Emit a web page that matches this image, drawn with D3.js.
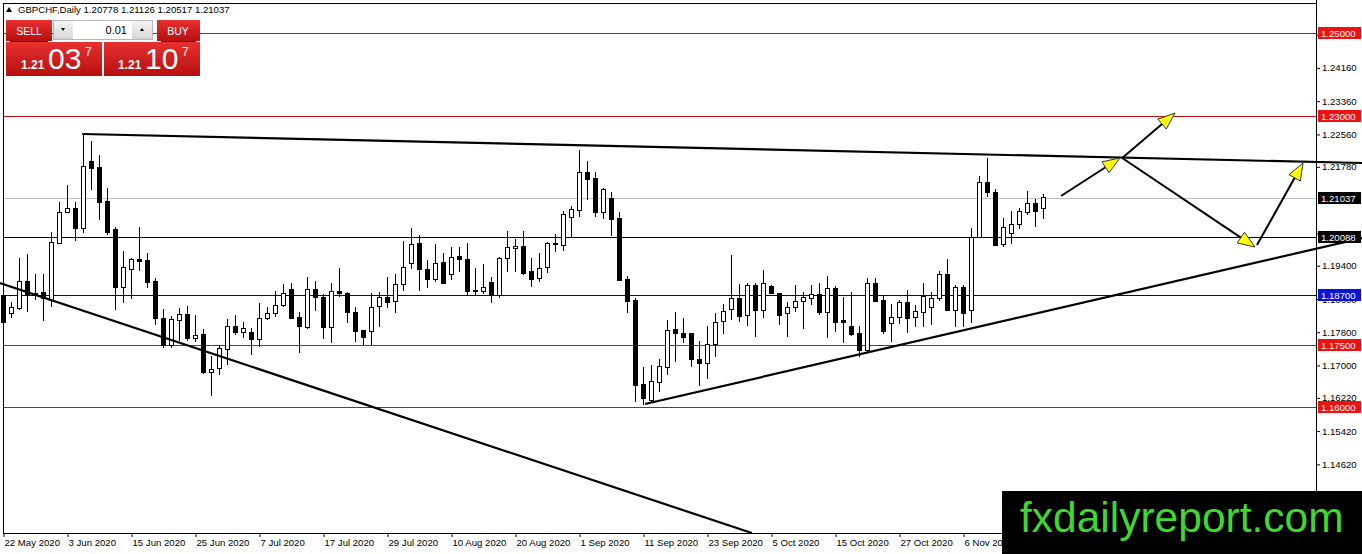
<!DOCTYPE html>
<html>
<head>
<meta charset="utf-8">
<script src="https://cdn.jsdelivr.net/npm/d3@7"></script>
<style>
  body { margin: 0; background: #fff; }
  svg { display: block; font-family: "Liberation Sans", Arial, sans-serif; }
</style>
</head>
<body>
<svg id="chart" width="1362" height="554"></svg>
<script>
// GBPCHF daily, 22 May 2020 - 20 Nov 2020 (weekdays)
const opens = [1.18694,1.18261,1.18381,1.19031,1.18742,1.18766,1.18574,1.19946,1.20692,1.20788,
  1.20307,1.21919,1.21775,1.20957,1.20283,1.18887,1.19320,1.19561,1.19537,1.19031,
  1.18141,1.17491,1.18093,1.18237,1.17659,1.17756,1.16841,1.16937,1.17395,1.17948,
  1.17804,1.17804,1.17635,1.18141,1.18261,1.18454,1.18839,1.18165,1.17924,1.18839,
  1.18646,1.17924,1.18791,1.18742,1.18285,1.17852,1.17828,1.18430,1.18646,1.18550,
  1.18959,1.19464,1.19946,1.19320,1.19079,1.19488,1.19200,1.19633,1.19561,1.18815,
  1.18791,1.19007,1.18694,1.19585,1.19825,1.19874,1.19272,1.19103,1.19368,1.19946,
  1.19898,1.20571,1.20740,1.21654,1.21510,1.20692,1.21029,1.20547,1.19079,1.18574,
  1.16552,1.16167,1.16600,1.16961,1.17876,1.17780,1.17780,1.17154,1.17058,1.17515,
  1.18068,1.18357,1.18622,1.18213,1.18935,1.18333,1.18911,1.18742,1.18261,1.18405,
  1.18550,1.18622,1.18718,1.18285,1.18863,1.18093,1.17948,1.17780,1.17371,1.18983,
  1.18574,1.18020,1.18165,1.18526,1.18165,1.18285,1.18405,1.18622,1.19200,1.18333,
  1.18887,1.18333,1.20090,1.21414,1.21173,1.19922,1.20186,1.20403,1.20692,1.20908,
  1.20778];
const highs = [1.18815,1.18526,1.19585,1.19681,1.19200,1.19200,1.20210,1.20932,1.21342,1.20932,
  1.22545,1.22401,1.22064,1.21269,1.20331,1.19753,1.19585,1.20331,1.19705,1.19103,
  1.18357,1.18189,1.18381,1.18430,1.18213,1.17876,1.17226,1.17491,1.18117,1.18213,
  1.18044,1.17900,1.18502,1.18405,1.18791,1.18959,1.18983,1.18285,1.19127,1.19031,
  1.18718,1.18983,1.19344,1.18766,1.18405,1.17852,1.18742,1.18766,1.19127,1.19200,
  1.19994,1.20307,1.20138,1.19537,1.19922,1.19705,1.19849,1.19849,1.19946,1.19344,
  1.19440,1.19127,1.19609,1.20235,1.20042,1.20235,1.19585,1.19705,1.19970,1.20162,
  1.20716,1.20836,1.22184,1.21919,1.21654,1.21269,1.21173,1.20692,1.19152,1.18622,
  1.16961,1.17010,1.17154,1.18093,1.18285,1.18141,1.17780,1.17587,1.17948,1.18261,
  1.18478,1.19657,1.18959,1.18983,1.18983,1.19296,1.18935,1.18742,1.18526,1.18935,
  1.18766,1.18935,1.18983,1.19152,1.18911,1.18646,1.18766,1.17948,1.19103,1.19103,
  1.18694,1.18478,1.18574,1.18815,1.18454,1.18983,1.18766,1.19272,1.19561,1.18935,
  1.18935,1.20307,1.21558,1.21991,1.21245,1.20547,1.20716,1.20788,1.21197,1.21005,
  1.21126];
const lows = [1.17972,1.18141,1.18333,1.18285,1.18574,1.18068,1.18405,1.19922,1.20668,1.19994,
  1.20186,1.21221,1.20499,1.20138,1.18333,1.18502,1.18598,1.19272,1.18863,1.17972,
  1.17419,1.17419,1.17587,1.17587,1.17563,1.16793,1.16263,1.16769,1.17010,1.17732,
  1.17659,1.17250,1.17443,1.18093,1.18165,1.18405,1.18117,1.17298,1.17876,1.18309,
  1.17635,1.17539,1.18646,1.18020,1.17563,1.17491,1.17491,1.17924,1.18381,1.18261,
  1.18791,1.19320,1.18791,1.18863,1.19007,1.18983,1.19055,1.19248,1.18694,1.18694,
  1.18718,1.18502,1.18622,1.19248,1.19248,1.19176,1.18887,1.19007,1.19224,1.19729,
  1.19753,1.20066,1.20571,1.20981,1.20571,1.20523,1.20114,1.19031,1.18261,1.16119,
  1.16050,1.16119,1.16360,1.16769,1.17082,1.17539,1.16961,1.16504,1.16673,1.17202,
  1.17756,1.18093,1.18044,1.17948,1.17683,1.18141,1.18718,1.17972,1.17683,1.18285,
  1.17876,1.18454,1.18213,1.17659,1.17804,1.17539,1.17707,1.17202,1.17298,1.18550,
  1.17756,1.17563,1.17996,1.17780,1.17924,1.17924,1.17972,1.18550,1.18333,1.17924,
  1.17924,1.18020,1.20066,1.21053,1.19874,1.19849,1.19922,1.20283,1.20620,1.20331,
  1.20517];
const closes = [1.18044,1.18405,1.19031,1.18718,1.18694,1.18622,1.19970,1.20692,1.20788,1.20307,
  1.21799,1.21751,1.20932,1.20210,1.18887,1.19368,1.19561,1.19513,1.19007,1.18141,
  1.17491,1.18117,1.18237,1.17659,1.17732,1.16841,1.16913,1.17419,1.17948,1.17804,
  1.17900,1.17635,1.18141,1.18261,1.18454,1.18742,1.18141,1.17948,1.18839,1.18646,
  1.17924,1.18791,1.18742,1.18285,1.17828,1.17683,1.18405,1.18646,1.18526,1.18959,
  1.19368,1.19922,1.19320,1.19079,1.19464,1.18983,1.19609,1.19561,1.18791,1.18810,
  1.18887,1.18718,1.19585,1.19849,1.19874,1.19224,1.19079,1.19344,1.19946,1.19922,
  1.20644,1.20764,1.21654,1.21486,1.20692,1.21245,1.20523,1.19055,1.18550,1.16528,
  1.16215,1.16624,1.16985,1.17852,1.17780,1.17683,1.17154,1.17058,1.17515,1.18044,
  1.18309,1.18622,1.18189,1.18935,1.18333,1.18983,1.18742,1.18213,1.18405,1.18550,
  1.18646,1.18718,1.18285,1.18863,1.18044,1.18044,1.17756,1.17371,1.18983,1.18550,
  1.17828,1.18165,1.18526,1.18141,1.18309,1.18670,1.18622,1.19200,1.18333,1.18887,
  1.18261,1.20090,1.21414,1.21173,1.19898,1.20331,1.20403,1.20716,1.20908,1.20716,
  1.21037];

// date labels every 8 bars; the one after 6 Nov sits under the watermark and is left out
const tickLabels = ["22 May 2020","3 Jun 2020","15 Jun 2020","25 Jun 2020","7 Jul 2020",
  "17 Jul 2020","29 Jul 2020","10 Aug 2020","20 Aug 2020","1 Sep 2020","11 Sep 2020",
  "23 Sep 2020","5 Oct 2020","15 Oct 2020","27 Oct 2020","6 Nov 2020"];
// ticks that are entirely covered in the reference (1.20980, 1.13820) are left out
const priceTicks = [1.24960,1.24160,1.23360,1.22560,1.21780,1.20180,1.19400,
  1.18600,1.17800,1.17000,1.16220,1.15420,1.14620];

// horizontal levels
const redLevels = [1.25000, 1.23000, 1.17500, 1.16000];
const bidPrice = 1.21037;
const pivotLevel = 1.20088;
const blueLevel = 1.18700;

// trend lines and arrows as [bar index, price]
const topLine = [[9.9, 1.22569], [169.9, 1.21871]];
const riseLine = [[80.25, 1.16071], [169.9, 1.20066]];
const fallLine = [[-0.4, 1.18983], [93.6, 1.12968]];
const arrows = [
  [[132.25, 1.21077], [139.6, 1.21991]],
  [[139.9, 1.21991], [146.5, 1.23074]],
  [[139.9, 1.21991], [156.5, 1.19849]],
  [[156.75, 1.19898], [162.5, 1.21871]]
];

const header = ["GBPCHF,Daily", 1.20778, 1.21126, 1.20517, 1.21037];

const n = closes.length;
const svg = d3.select("#chart");
const plotL = 3, plotR = 1316, plotT = 3, plotB = 533;

let x = d3.scaleLinear().domain([0, n - 1]).range([3, 3 + 8 * (n - 1)]);
let y = d3.scaleLinear().domain([1.16, 1.25]).range([407, 33]);

svg.append("rect").attr("width", 1362).attr("height", 554).attr("fill", "#fff");

const defs = svg.append("defs");
const redGrad = defs.append("linearGradient").attr("id", "redg").attr("x1", 0).attr("x2", 0).attr("y1", 0).attr("y2", 1);
redGrad.append("stop").attr("offset", "0%").attr("stop-color", "#e83030");
redGrad.append("stop").attr("offset", "100%").attr("stop-color", "#b50f0f");
const grayGrad = defs.append("linearGradient").attr("id", "grayg").attr("x1", 0).attr("x2", 0).attr("y1", 0).attr("y2", 1);
grayGrad.append("stop").attr("offset", "0%").attr("stop-color", "#f4f4f4");
grayGrad.append("stop").attr("offset", "100%").attr("stop-color", "#d6d6d6");

// horizontal level lines
const hline = (p, color) => svg.append("line")
  .attr("x1", plotL).attr("x2", plotR)
  .attr("y1", Math.round(y(p)) + 0.5).attr("y2", Math.round(y(p)) + 0.5)
  .attr("stroke", color).attr("stroke-width", 1);
redLevels.forEach(p => hline(p, "#d01010"));
hline(bidPrice, "#c0c0c0");
hline(pivotLevel, "#000");
hline(blueLevel, "#000090");

// candles
const candles = svg.append("g").attr("shape-rendering", "crispEdges");
const idx = d3.range(n);
candles.selectAll(".wick").data(idx).enter().append("line")
  .attr("x1", i => x(i) + 0.5).attr("x2", i => x(i) + 0.5)
  .attr("y1", i => y(highs[i])).attr("y2", i => y(lows[i]))
  .attr("stroke", "#000");
candles.selectAll(".body").data(idx).enter().append("rect")
  .attr("x", i => x(i) - 1.5)
  .attr("width", 4)
  .attr("y", i => y(Math.max(opens[i], closes[i])))
  .attr("height", i => Math.max(1, Math.abs(y(opens[i]) - y(closes[i]))))
  .attr("fill", i => closes[i] >= opens[i] ? "#fff" : "#000")
  .attr("stroke", "#000");

// trend lines
const seg = d3.line().x(d => x(d[0])).y(d => y(d[1]));
[topLine, riseLine, fallLine].forEach(l => {
  svg.append("path").attr("d", seg(l)).attr("stroke", "#000").attr("stroke-width", 2.2).attr("fill", "none");
});

// arrows
arrows.forEach(a => {
  const x0 = x(a[0][0]), y0 = y(a[0][1]), x1 = x(a[1][0]), y1 = y(a[1][1]);
  const ang = Math.atan2(y1 - y0, x1 - x0);
  const len = 17, hw = 6.5;
  const bx = x1 - len * Math.cos(ang), by = y1 - len * Math.sin(ang);
  svg.append("line").attr("x1", x0).attr("y1", y0).attr("x2", bx).attr("y2", by)
    .attr("stroke", "#000").attr("stroke-width", 2);
  const pts = [[x1, y1],
    [bx + hw * Math.sin(ang), by - hw * Math.cos(ang)],
    [bx - hw * Math.sin(ang), by + hw * Math.cos(ang)]];
  svg.append("polygon").attr("points", pts.map(p => p.join(",")).join(" "))
    .attr("fill", "#ffff00").attr("stroke", "#333").attr("stroke-width", 1);
});

// frame
svg.append("path")
  .attr("d", `M${plotL + 0.5},${plotB + 0.5}V${plotT + 0.5}H${plotR + 0.5}V${plotB + 0.5}H${plotL + 0.5}`)
  .attr("stroke", "#000").attr("fill", "none").attr("shape-rendering", "crispEdges");
svg.append("line").attr("x1", plotR + 0.5).attr("x2", plotR + 0.5).attr("y1", 0).attr("y2", 554)
  .attr("stroke", "#000").attr("shape-rendering", "crispEdges");

// bottom axis
const xAxis = svg.append("g").attr("transform", `translate(0,${plotB})`)
  .call(d3.axisBottom(x).tickValues(d3.range(0, n, 8)).tickSize(4).tickFormat((d, i) => tickLabels[i] || ""));
xAxis.select(".domain").remove();
xAxis.selectAll("line").attr("stroke", "#000").attr("transform", "translate(0.5,0)");
xAxis.selectAll("text").attr("text-anchor", "start").attr("dx", 1).attr("y", 6)
  .attr("font-size", 9.6).attr("font-family", "Liberation Sans, Arial, sans-serif").attr("fill", "#000");

// right axis
const yAxis = svg.append("g").attr("transform", `translate(${plotR},0)`)
  .call(d3.axisRight(y).tickValues(priceTicks).tickSize(4).tickFormat(d3.format(".5f")));
yAxis.select(".domain").remove();
yAxis.selectAll("line").attr("stroke", "#000");
yAxis.selectAll("text").attr("x", 6).attr("font-size", 9.6)
  .attr("font-family", "Liberation Sans, Arial, sans-serif").attr("fill", "#000");

// price labels on the right scale
const priceTag = (p, color) => {
  const yy = Math.round(y(p));
  svg.append("rect").attr("x", plotR + 2).attr("y", yy - 6).attr("width", 43).attr("height", 12).attr("fill", color);
  svg.append("text").attr("x", plotR + 5).attr("y", yy + 4).attr("font-size", 9.6)
    .attr("fill", "#fff").text(d3.format(".5f")(p));
};
redLevels.forEach(p => priceTag(p, "#ee1111"));
priceTag(bidPrice, "#000");
priceTag(pivotLevel, "#000");
priceTag(blueLevel, "#0a14d8");

// header
svg.append("path").attr("d", "M6,12 L9,7 L12,12 Z").attr("fill", "#000");
svg.append("text").attr("x", 18).attr("y", 13).attr("font-size", 9.6).attr("fill", "#000")
  .text(header[0] + "  " + header.slice(1).map(d3.format(".5f")).join(" "));

// one-click trading panel
const panel = svg.append("g");
panel.append("rect").attr("x", 6).attr("y", 20).attr("width", 46).attr("height", 21).attr("fill", "url(#redg)");
panel.append("rect").attr("x", 157).attr("y", 20).attr("width", 43).attr("height", 21).attr("fill", "url(#redg)");
panel.append("rect").attr("x", 6).attr("y", 42).attr("width", 96).attr("height", 34).attr("fill", "url(#redg)");
panel.append("rect").attr("x", 104).attr("y", 42).attr("width", 96).attr("height", 34).attr("fill", "url(#redg)");
panel.append("line").attr("x1", 10).attr("x2", 48).attr("y1", 41.5).attr("y2", 41.5).attr("stroke", "#7a0000");
panel.append("line").attr("x1", 161).attr("x2", 196).attr("y1", 41.5).attr("y2", 41.5).attr("stroke", "#7a0000");
panel.append("rect").attr("x", 53.5).attr("y", 20.5).attr("width", 99).attr("height", 19)
  .attr("fill", "#fff").attr("stroke", "#b8b8b8");
panel.append("rect").attr("x", 54).attr("y", 21).attr("width", 19).attr("height", 18).attr("fill", "url(#grayg)");
panel.append("rect").attr("x", 132).attr("y", 21).attr("width", 20).attr("height", 18).attr("fill", "url(#grayg)");
panel.append("path").attr("d", "M61,28 L65,28 L63,31 Z").attr("fill", "#000");
panel.append("path").attr("d", "M140,31 L144,31 L142,28 Z").attr("fill", "#000");
panel.append("text").attr("x", 127).attr("y", 34).attr("text-anchor", "end").attr("font-size", 11).attr("fill", "#000").text("0.01");
panel.append("text").attr("x", 29).attr("y", 35).attr("text-anchor", "middle").attr("font-size", 10.5).attr("fill", "#fff").text("SELL");
panel.append("text").attr("x", 178).attr("y", 35).attr("text-anchor", "middle").attr("font-size", 10.5).attr("fill", "#fff").text("BUY");
const quote = (x0, big, sup) => {
  panel.append("text").attr("x", x0).attr("y", 69).attr("font-size", 12).attr("font-weight", "bold").attr("fill", "#fff").text("1.21");
  panel.append("text").attr("x", x0 + 27).attr("y", 69).attr("font-size", 30).attr("fill", "#fff").text(big);
  panel.append("text").attr("x", x0 + 64).attr("y", 56).attr("font-size", 12).attr("fill", "#fff").text(sup);
};
quote(21, "03", "7");
quote(118, "10", "7");

// watermark
svg.append("rect").attr("x", 1002).attr("y", 491).attr("width", 360).attr("height", 63).attr("fill", "#000");
svg.append("text").attr("x", 1020).attr("y", 532).attr("font-size", 42.5).attr("fill", "#3fd82f").text("fxdailyreport.com");
</script>
</body>
</html>
